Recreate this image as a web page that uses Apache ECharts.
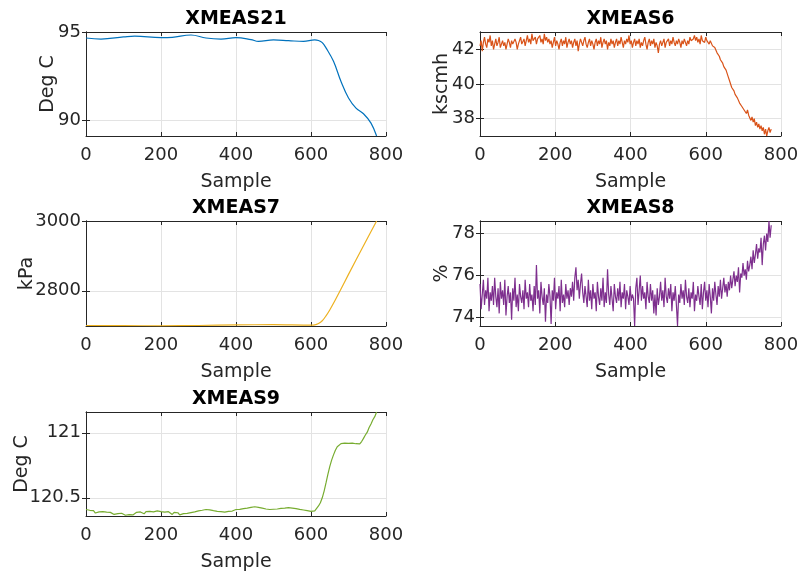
<!DOCTYPE html>
<html>
<head>
<meta charset="utf-8">
<script src="https://cdn.jsdelivr.net/npm/echarts@6/dist/echarts.min.js"></script>
<style>
    html, body { margin: 0; padding: 0; background: #fff; }
    #main { width: 803px; height: 573px; }
</style>
</head>
<body>
<div id="main"></div>
<script>
// x axis of every panel
const xTicks = [0, 200, 400, 600, 800];

// XMEAS21 is smooth, read at a few points
const xmeas21Samples = [0, 40, 100, 130, 200, 230, 280, 320, 360, 400, 440, 460, 500, 540, 580, 610, 620, 630, 640, 660, 680, 700, 720, 740, 760, 775];
const xmeas21Values = [94.66, 94.6, 94.72, 94.77, 94.68, 94.7, 94.83, 94.66, 94.6, 94.68, 94.57, 94.47, 94.55, 94.51, 94.47, 94.55, 94.52, 94.4, 94.1, 93.34, 92.2, 91.27, 90.7, 90.38, 89.85, 89.12];
const xmeas21YTicks = [90, 95];

// XMEAS7 is smooth too
const xmeas7Samples = [0, 100, 200, 300, 400, 500, 600, 610, 620, 630, 640, 650, 660, 680, 700, 740, 775];
const xmeas7Values = [2700.5, 2700, 2699.5, 2700.5, 2702, 2703, 2701.5, 2702, 2706, 2714, 2728, 2745, 2764, 2805, 2847, 2929, 3000];
const xmeas7YTicks = [2800, 3000];

// noisy ones: XMEAS6 and XMEAS8 one value every 3 samples (0 .. 774)
const denseStep = 3;
const xmeas6Values = [
    42.2, 42.5, 41.9, 42.4, 42.7, 42.3, 42.1, 42.6, 42.4, 42.8, 42.2, 42.5, 42.0, 42.3, 42.6, 42.2, 42.4, 42.7, 42.1, 42.3,
    42.5, 42.2, 42.4, 42.0, 42.3, 42.6, 42.4, 42.1, 42.5, 42.3, 42.2, 42.6, 42.4, 42.0, 42.3, 42.5, 42.7, 42.3, 42.4, 42.6,
    42.2, 42.5, 42.8, 42.4, 42.6, 42.3, 42.9, 42.5, 42.4, 42.7, 42.3, 42.6, 42.5, 42.8, 42.4, 42.6, 42.3, 42.9, 42.5, 42.7,
    42.4, 42.6, 42.3, 42.5, 42.1, 42.4, 42.7, 42.2, 42.5, 42.3, 42.0, 42.4, 42.6, 42.2, 42.5, 42.3, 42.7, 42.1, 42.4, 42.6,
    42.3, 42.5, 42.1, 42.4, 42.6, 42.2, 42.5, 41.9, 42.3, 42.6, 42.4, 42.2, 42.5, 42.7, 42.3, 42.1, 42.4, 42.6, 42.2, 42.5,
    42.3, 42.0, 42.4, 42.6, 42.2, 42.5, 42.3, 42.7, 42.1, 42.4, 42.6, 42.3, 42.5, 42.0, 42.4, 42.2, 42.6, 42.3, 42.5, 42.1,
    42.4, 42.6, 42.2, 42.5, 42.3, 42.7, 42.4, 42.1, 42.5, 42.3, 42.6, 42.4, 42.8, 42.3, 42.5, 42.1, 42.4, 42.6, 42.2, 42.5,
    42.3, 42.6, 42.1, 42.4, 42.2, 42.5, 42.7, 42.3, 42.0, 42.4, 42.6, 42.2, 42.5, 42.3, 42.6, 42.1, 42.4, 42.2, 41.8, 42.3,
    42.5, 42.2, 42.4, 42.6, 42.1, 42.4, 42.3, 42.6, 42.2, 42.5, 42.3, 42.7, 42.4, 42.2, 42.5, 42.3, 42.6, 42.4, 42.1, 42.5,
    42.3, 42.6, 42.4, 42.2, 42.5, 42.3, 42.7, 42.5, 42.4, 42.6, 42.8, 42.5, 42.7, 42.4, 42.6, 42.3, 42.8, 42.5, 42.6, 42.4,
    42.7, 42.5, 42.6, 42.3, 42.5, 42.4, 42.2, 42.3, 42.1, 42.0, 41.8, 41.9, 41.6, 41.4, 41.5, 41.2, 41.0, 41.1, 40.8, 40.6,
    40.4, 40.2, 40.0, 39.8, 39.9, 39.6, 39.4, 39.5, 39.2, 39.1, 38.9, 39.0, 38.7, 38.8, 38.5, 38.6, 38.3, 38.5, 38.2, 38.3,
    37.9, 38.1, 37.8, 38.0, 37.6, 37.8, 37.5, 37.7, 37.4, 37.6, 37.3, 37.5, 37.1, 37.4, 37.0, 37.3, 37.5, 37.2, 37.4
];
const xmeas6YTicks = [38, 40, 42];

const xmeas8Values = [
    75.6, 74.4, 75.1, 75.8, 74.6, 75.3, 74.9, 75.9, 74.3, 75.2, 74.8, 75.5, 74.6, 75.9, 75.0, 74.5, 75.4, 74.2, 75.7, 74.9,
    75.3, 74.6, 75.8, 74.1, 75.0, 75.5, 74.7, 75.2, 73.9, 75.4, 74.8, 75.9, 74.5, 75.1, 74.3, 75.6, 75.0, 74.7, 75.3, 74.4,
    75.8, 74.9, 75.2, 74.5, 75.6, 74.8, 75.1, 74.3, 75.5, 74.6, 76.5, 74.9, 75.3, 74.2, 75.7, 75.0, 74.6, 75.4, 73.8, 75.1,
    74.7, 75.6, 75.0, 73.7, 75.3, 74.8, 75.9, 74.4, 75.2, 74.9, 75.5, 74.3, 75.8, 74.7, 75.1, 74.5, 75.6, 74.9, 75.3, 74.6,
    75.4, 75.0, 75.7, 74.8, 75.9, 76.4, 75.3, 75.8, 74.9, 75.6, 76.1, 75.2, 74.7, 75.5, 75.0, 74.5, 75.8, 74.8, 75.3, 74.4,
    75.6, 74.9, 75.2, 74.3, 75.7, 75.0, 74.6, 75.4, 74.8, 75.9, 74.5, 75.2, 74.7, 76.3, 75.1, 74.6, 75.5, 74.9, 74.3, 75.6,
    75.0, 74.7, 75.4, 74.8, 75.7, 74.5, 75.2, 74.9, 75.6, 74.4, 75.3, 75.0, 74.6, 75.5, 74.8, 75.1, 74.9, 73.6, 75.4, 75.9,
    74.6, 75.3, 76.0, 74.8, 75.5, 74.9, 75.2, 74.4, 75.7, 75.0, 74.7, 75.6, 74.8, 75.3, 74.2, 75.1, 74.1, 75.4, 74.6, 75.0,
    75.7, 74.8, 75.3, 74.5, 75.9, 75.0, 74.7, 75.4, 74.9, 75.6, 74.3, 75.2, 74.8, 75.5, 74.6, 73.6, 75.1, 74.7, 75.6, 74.9,
    75.3, 74.6, 75.8, 75.0, 74.7, 75.4, 74.5, 75.2, 74.9, 75.7, 74.3, 75.1, 74.8, 75.5, 75.0, 74.6, 75.6, 74.4, 75.2, 75.7,
    74.8, 75.3, 74.5, 75.6, 75.0, 74.2, 75.4, 74.8, 75.7, 75.1, 74.6, 75.5, 75.0, 75.8, 74.9, 75.4, 75.9, 75.2, 75.6, 75.0,
    75.7, 75.3, 76.0, 75.4, 75.8, 76.2, 75.5, 76.0, 75.7, 76.4, 75.2, 76.1, 75.9, 76.6, 76.0, 76.3, 75.8, 76.7, 76.2, 76.5,
    76.9, 76.3, 77.2, 76.6, 77.0, 77.5, 76.8, 77.3, 77.1, 77.8, 76.5, 77.5, 77.9, 77.2, 78.0, 77.6, 78.6, 77.8, 78.4
];
const xmeas8YTicks = [74, 76, 78];

// XMEAS9 one value every 5 samples (0 .. 775)
const xmeas9Step = 5;
const xmeas9Values = [
    120.410, 120.396, 120.404, 120.389, 120.401, 120.383, 120.395, 120.392, 120.380, 120.394, 120.384, 120.390, 120.376, 120.388, 120.381, 120.372, 120.386, 120.378, 120.369, 120.381,
    120.374, 120.366, 120.379, 120.371, 120.383, 120.368, 120.380, 120.388, 120.375, 120.391, 120.382, 120.377, 120.393, 120.384, 120.396, 120.381, 120.392, 120.386, 120.399, 120.385,
    120.394, 120.381, 120.390, 120.377, 120.393, 120.379, 120.372, 120.388, 120.374, 120.385, 120.369, 120.383, 120.378, 120.391, 120.380, 120.393, 120.386, 120.399, 120.392, 120.403,
    120.400, 120.412, 120.404, 120.419, 120.410, 120.422, 120.407, 120.415, 120.401, 120.409, 120.396, 120.406, 120.393, 120.404, 120.390, 120.402, 120.396, 120.409, 120.398, 120.405,
    120.410, 120.398, 120.411, 120.403, 120.417, 120.408, 120.421, 120.413, 120.427, 120.419, 120.431, 120.418, 120.426, 120.411, 120.420, 120.405, 120.414, 120.399, 120.410, 120.401,
    120.412, 120.400, 120.414, 120.405, 120.418, 120.407, 120.420, 120.411, 120.424, 120.413, 120.421, 120.408, 120.417, 120.402, 120.411, 120.396, 120.406, 120.392, 120.401, 120.388,
    120.396, 120.383, 120.400, 120.409, 120.437, 120.462, 120.500, 120.552, 120.614, 120.680, 120.740, 120.790, 120.830, 120.866, 120.893, 120.903, 120.917, 120.906, 120.920, 120.905,
    120.918, 120.906, 120.921, 120.909, 120.916, 120.925, 120.915, 120.933, 120.957, 120.983, 121.005, 121.040, 121.068, 121.100, 121.124, 121.160
];
const xmeas9YTicks = [120.5, 121];

const denseSamples = xmeas6Values.map((v, i) => i * denseStep);
const xmeas9Samples = xmeas9Values.map((v, i) => i * xmeas9Step);

const textColor = '#262626';
const gridColor = '#e3e3e3';
const font = 'DejaVu Sans';

const panels = [
    { title: 'XMEAS21', yName: 'Deg C', xs: xmeas21Samples, ys: xmeas21Values, color: '#0072BD', yMin: 89.12, yMax: 95, yTicks: xmeas21YTicks, smooth: 0.4, left: 86, top: 32, width: 300, height: 104, nameGap: 28 },
    { title: 'XMEAS6', yName: 'kscmh', xs: denseSamples, ys: xmeas6Values, color: '#D95319', yMin: 37, yMax: 43, yTicks: xmeas6YTicks, smooth: false, left: 480, top: 32, width: 301, height: 104, nameGap: 28 },
    { title: 'XMEAS7', yName: 'kPa', xs: xmeas7Samples, ys: xmeas7Values, color: '#EDB120', yMin: 2699, yMax: 3000, yTicks: xmeas7YTicks, smooth: 0.3, left: 86, top: 221, width: 300, height: 105, nameGap: 49 },
    { title: 'XMEAS8', yName: '%', xs: denseSamples, ys: xmeas8Values, color: '#7E2F8E', yMin: 73.6, yMax: 78.6, yTicks: xmeas8YTicks, smooth: false, left: 480, top: 221, width: 301, height: 105, nameGap: 28 },
    { title: 'XMEAS9', yName: 'Deg C', xs: xmeas9Samples, ys: xmeas9Values, color: '#77AC30', yMin: 120.36, yMax: 121.16, yTicks: xmeas9YTicks, smooth: false, left: 86, top: 412, width: 300, height: 105, nameGap: 54 },
];

const grid = [];
const xAxis = [];
const yAxis = [];
const series = [];
const title = [];

panels.forEach((p, i) => {
    grid.push({ left: p.left, top: p.top, width: p.width, height: p.height, containLabel: false });
    title.push({
        text: p.title,
        left: p.left + p.width / 2,
        top: p.top - 22,
        textAlign: 'center',
        padding: 0,
        textStyle: { fontFamily: font, fontSize: 19, fontWeight: 'bold', color: '#000' },
    });
    const tick = { show: true, inside: true, length: 4, lineStyle: { color: textColor } };
    const line = { show: true, lineStyle: { color: textColor, width: 1 } };
    // bottom x axis with labels
    xAxis.push({
        type: 'value', gridIndex: i, position: 'bottom', min: xTicks[0], max: xTicks[xTicks.length - 1], interval: 200,
        name: 'Sample', nameLocation: 'middle', nameGap: 37, nameMoveOverlap: false,
        nameTextStyle: { fontFamily: font, fontSize: 19, color: textColor },
        axisLine: line, axisTick: tick,
        axisLabel: { fontFamily: font, fontSize: 18, color: textColor, margin: 10 },
        splitLine: { show: true, lineStyle: { color: gridColor, width: 1 } },
    });
    // top x axis, just ticks
    xAxis.push({
        type: 'value', gridIndex: i, position: 'top', min: xTicks[0], max: xTicks[xTicks.length - 1], interval: 200,
        axisLine: line, axisTick: tick, axisLabel: { show: false }, splitLine: { show: false },
    });
    yAxis.push({
        type: 'value', gridIndex: i, position: 'left', min: p.yMin, max: p.yMax,
        name: p.yName, nameLocation: 'middle', nameGap: p.nameGap, nameRotate: 90, nameMoveOverlap: false,
        nameTextStyle: { fontFamily: font, fontSize: 19, color: textColor },
        axisLine: line,
        axisTick: Object.assign({ customValues: p.yTicks }, tick),
        axisLabel: { customValues: p.yTicks, fontFamily: font, fontSize: 18, color: textColor, margin: 5, formatter: v => String(v) },
        splitLine: { show: true, lineStyle: { color: gridColor, width: 1 } },
    });
    yAxis.push({
        type: 'value', gridIndex: i, position: 'right', min: p.yMin, max: p.yMax,
        axisLine: line,
        axisTick: Object.assign({ customValues: p.yTicks }, tick),
        axisLabel: { show: false }, splitLine: { show: false },
    });
    series.push({
        type: 'line',
        xAxisIndex: i * 2,
        yAxisIndex: i * 2,
        data: p.xs.map((x, k) => [x, p.ys[k]]),
        showSymbol: false,
        smooth: p.smooth,
        lineStyle: { color: p.color, width: 1.2 },
        itemStyle: { color: p.color },
        clip: true,
    });
});

const myChart = echarts.init(document.getElementById('main'));
myChart.setOption({
    animation: false,
    backgroundColor: '#fff',
    title,
    grid,
    xAxis,
    yAxis,
    series,
});
</script>
</body>
</html>
